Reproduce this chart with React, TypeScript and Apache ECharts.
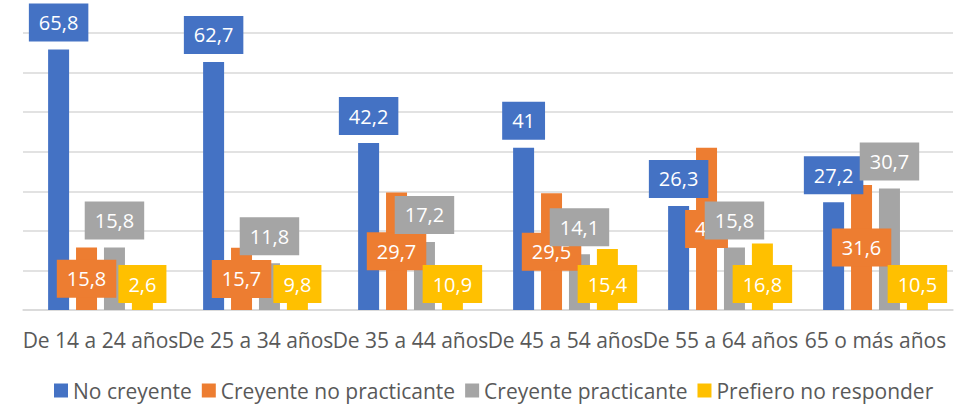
import React, { useEffect, useRef } from "react";
import * as echarts from "echarts";

const categories = [
  "De 14 a 24 años",
  "De 25 a 34 años",
  "De 35 a 44 años",
  "De 45 a 54 años",
  "De 55 a 64 años",
  "65 o más años",
];
const seriesNames = [
  "No creyente",
  "Creyente no practicante",
  "Creyente practicante",
  "Prefiero no responder",
];
const noCreyente = [65.8, 62.7, 42.2, 41, 26.3, 27.2];
const creyenteNoPracticante = [15.8, 15.7, 29.7, 29.5, 41, 31.6];
const creyentePracticante = [15.8, 11.8, 17.2, 14.1, 15.8, 30.7];
const prefieroNoResponder = [2.6, 9.8, 10.9, 15.4, 16.8, 10.5];

const colors = ["#4472C4", "#ED7D31", "#A5A5A5", "#FFC000"];
const FONT = "'Open Sans', sans-serif";

export default function App() {
  const ref = useRef<HTMLDivElement>(null);
  useEffect(() => {
    if (!ref.current) return;
    const chart = echarts.init(ref.current, undefined, { renderer: "svg" });
    const values = [noCreyente, creyenteNoPracticante, creyentePracticante, prefieroNoResponder];
    const positions: any[] = ["top", "inside", "top", "insideBottom"];
    const distances = [8, 5, 8, 7];
    chart.setOption({
      animation: false,
      color: colors,
      grid: { left: 23, right: 5, top: 33, bottom: 98, containLabel: false },
      legend: {
        data: seriesNames,
        left: 54,
        top: 380,
        padding: 0,
        itemWidth: 14,
        itemHeight: 14,
        itemGap: 10,
        icon: "rect",
        textStyle: { fontFamily: FONT, fontSize: 21, color: "#595959", padding: [0, 0, 0, 0] },
      },
      xAxis: {
        type: "category",
        data: categories,
        axisLine: { show: true, lineStyle: { color: "#D9D9D9", width: 1.5 } },
        axisTick: { show: false },
        axisLabel: {
          interval: 0,
          margin: 19,
          fontFamily: FONT,
          fontSize: 21,
          color: "#595959",
        },
      },
      yAxis: {
        type: "value",
        min: 0,
        max: 70,
        interval: 10,
        axisLabel: { show: false },
        axisLine: { show: false },
        axisTick: { show: false },
        splitLine: { lineStyle: { color: "#D9D9D9", width: 1.5 } },
      },
      series: seriesNames.map((name, i) => ({
        name,
        type: "bar",
        data: values[i],
        barWidth: 21,
        barGap: "33%",
        itemStyle: { color: colors[i] },
        label: {
          show: true,
          position: positions[i],
          distance: distances[i],
          formatter: (p: any) => String(p.value).replace(".", ","),
          backgroundColor: colors[i],
          color: "#fff",
          fontFamily: FONT,
          fontSize: 20,
          lineHeight: 22,
          padding: [8, 10],
        },
      })),
    });
    return () => chart.dispose();
  }, []);
  return (
    <div
      ref={ref}
      style={{ position: "fixed", left: 0, top: 0, width: 958, height: 408, background: "#fff" }}
    />
  );
}
